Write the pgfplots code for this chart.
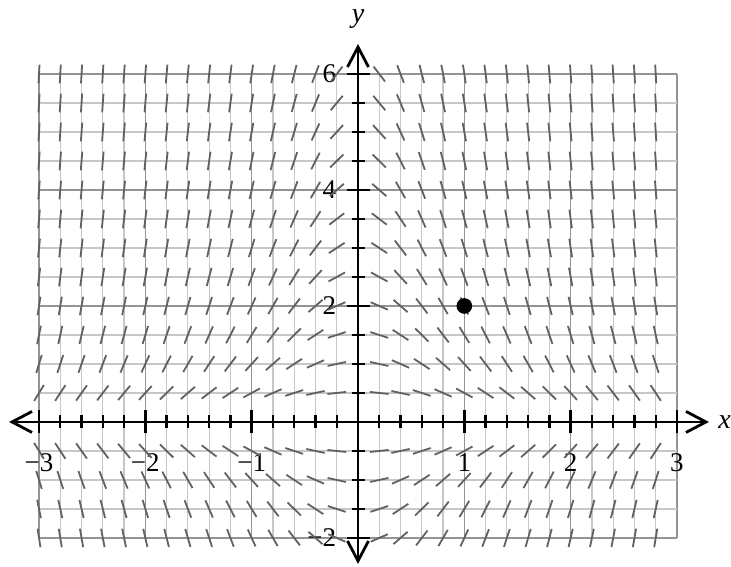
\documentclass[border=0pt]{standalone}
\usepackage{fontspec}
\setmainfont{Liberation Serif}
\usepackage{pgfplots}
\usepackage{pgfplotstable}
\pgfplotsset{compat=1.18}
\usetikzlibrary{arrows.meta}

\definecolor{segcol}{gray}{0.38}
\definecolor{majgrid}{gray}{0.58}
\definecolor{mingrid}{gray}{0.78}

% slopes dy/dx at the grid points: one row per x, one column per y
\pgfplotstableread[header=has colnames]{
x    -2    -1.5  -1    -0.5  0.5   1     1.5   2     2.5   3     3.5   4     4.5   5     5.5   6
-3   -12   -9    -6    -3    3     6     9     12    15    18    21    24    27    30    33    36
-2.8 -11.2 -8.4  -5.6  -2.8  2.8   5.6   8.4   11.2  14    16.8  19.6  22.4  25.2  28    30.8  33.6
-2.6 -10.4 -7.8  -5.2  -2.6  2.6   5.2   7.8   10.4  13    15.6  18.2  20.8  23.4  26    28.6  31.2
-2.4 -9.6  -7.2  -4.8  -2.4  2.4   4.8   7.2   9.6   12    14.4  16.8  19.2  21.6  24    26.4  28.8
-2.2 -8.8  -6.6  -4.4  -2.2  2.2   4.4   6.6   8.8   11    13.2  15.4  17.6  19.8  22    24.2  26.4
-2   -8    -6    -4    -2    2     4     6     8     10    12    14    16    18    20    22    24
-1.8 -7.2  -5.4  -3.6  -1.8  1.8   3.6   5.4   7.2   9     10.8  12.6  14.4  16.2  18    19.8  21.6
-1.6 -6.4  -4.8  -3.2  -1.6  1.6   3.2   4.8   6.4   8     9.6   11.2  12.8  14.4  16    17.6  19.2
-1.4 -5.6  -4.2  -2.8  -1.4  1.4   2.8   4.2   5.6   7     8.4   9.8   11.2  12.6  14    15.4  16.8
-1.2 -4.8  -3.6  -2.4  -1.2  1.2   2.4   3.6   4.8   6     7.2   8.4   9.6   10.8  12    13.2  14.4
-1   -4    -3    -2    -1    1     2     3     4     5     6     7     8     9     10    11    12
-0.8 -3.2  -2.4  -1.6  -0.8  0.8   1.6   2.4   3.2   4     4.8   5.6   6.4   7.2   8     8.8   9.6
-0.6 -2.4  -1.8  -1.2  -0.6  0.6   1.2   1.8   2.4   3     3.6   4.2   4.8   5.4   6     6.6   7.2
-0.4 -1.6  -1.2  -0.8  -0.4  0.4   0.8   1.2   1.6   2     2.4   2.8   3.2   3.6   4     4.4   4.8
-0.2 -0.8  -0.6  -0.4  -0.2  0.2   0.4   0.6   0.8   1     1.2   1.4   1.6   1.8   2     2.2   2.4
0.2  0.8   0.6   0.4   0.2   -0.2  -0.4  -0.6  -0.8  -1    -1.2  -1.4  -1.6  -1.8  -2    -2.2  -2.4
0.4  1.6   1.2   0.8   0.4   -0.4  -0.8  -1.2  -1.6  -2    -2.4  -2.8  -3.2  -3.6  -4    -4.4  -4.8
0.6  2.4   1.8   1.2   0.6   -0.6  -1.2  -1.8  -2.4  -3    -3.6  -4.2  -4.8  -5.4  -6    -6.6  -7.2
0.8  3.2   2.4   1.6   0.8   -0.8  -1.6  -2.4  -3.2  -4    -4.8  -5.6  -6.4  -7.2  -8    -8.8  -9.6
1    4     3     2     1     -1    -2    -3    -4    -5    -6    -7    -8    -9    -10   -11   -12
1.2  4.8   3.6   2.4   1.2   -1.2  -2.4  -3.6  -4.8  -6    -7.2  -8.4  -9.6  -10.8 -12   -13.2 -14.4
1.4  5.6   4.2   2.8   1.4   -1.4  -2.8  -4.2  -5.6  -7    -8.4  -9.8  -11.2 -12.6 -14   -15.4 -16.8
1.6  6.4   4.8   3.2   1.6   -1.6  -3.2  -4.8  -6.4  -8    -9.6  -11.2 -12.8 -14.4 -16   -17.6 -19.2
1.8  7.2   5.4   3.6   1.8   -1.8  -3.6  -5.4  -7.2  -9    -10.8 -12.6 -14.4 -16.2 -18   -19.8 -21.6
2    8     6     4     2     -2    -4    -6    -8    -10   -12   -14   -16   -18   -20   -22   -24
2.2  8.8   6.6   4.4   2.2   -2.2  -4.4  -6.6  -8.8  -11   -13.2 -15.4 -17.6 -19.8 -22   -24.2 -26.4
2.4  9.6   7.2   4.8   2.4   -2.4  -4.8  -7.2  -9.6  -12   -14.4 -16.8 -19.2 -21.6 -24   -26.4 -28.8
2.6  10.4  7.8   5.2   2.6   -2.6  -5.2  -7.8  -10.4 -13   -15.6 -18.2 -20.8 -23.4 -26   -28.6 -31.2
2.8  11.2  8.4   5.6   2.8   -2.8  -5.6  -8.4  -11.2 -14   -16.8 -19.6 -22.4 -25.2 -28   -30.8 -33.6
}\slopes

% half length of a segment in x units, and the y/x screen ratio of the units
\def\hl{0.088}
\def\ry{0.5455}

\pgfplotsset{
  layers/fieldlayers/.define layer set={
    axis background,axis grid,pre main,main,axis ticks,axis lines,
    axis tick labels,axis descriptions,axis foreground}{},
}

\begin{document}
\begin{tikzpicture}[>={Straight Barb[length=10pt,width=10.5pt]}]
\begin{axis}[
  set layers=fieldlayers,
  x=53.17pt, y=29pt,
  xmin=-3, xmax=3, ymin=-2, ymax=6,
  clip=false,
  axis lines=middle,
  axis line style={<->, line width=1.4pt, black},
  x axis line style={shorten <=-15pt, shorten >=-16pt},
  y axis line style={shorten <=-13pt, shorten >=-15pt},
  xtick={-3,-2,-1,1,2,3},
  xticklabels={−3,−2,−1,1,2,3},
  ytick={-2,2,4,6},
  yticklabels={−2,2,4,6},
  minor xtick={-2.8,-2.6,-2.4,-2.2,-1.8,-1.6,-1.4,-1.2,-0.8,-0.6,-0.4,-0.2,
               0.2,0.4,0.6,0.8,1.2,1.4,1.6,1.8,2.2,2.4,2.6,2.8},
  minor ytick={-1.5,-1,-0.5,0.5,1,1.5,2.5,3,3.5,4.5,5,5.5},
  tick align=center,
  major tick length=11.5pt,
  minor tick length=6.5pt,
  tick style={black, line width=1.2pt},
  grid=both,
  major grid style={majgrid, line width=0.8pt},
  minor grid style={mingrid, line width=0.6pt},
  ticklabel style={font=\fontsize{13.5}{15}\selectfont, inner sep=0pt},
  xticklabel style={anchor=center, yshift=-14.5pt},
  yticklabel style={anchor=east, xshift=-5pt},
]
\pgfplotsinvokeforeach{-2,-1.5,-1,-0.5,0.5,1,1.5,2,2.5,3,3.5,4,4.5,5,5.5,6}{
  \addplot[segcol, line width=0.9pt, no markers,
    quiver={u={2*\hl/sqrt(1+(\ry*(\thisrow{#1}))^2)},
            v={2*\hl*(\thisrow{#1})/sqrt(1+(\ry*(\thisrow{#1}))^2)}}]
    table[x expr={\thisrow{x}-\hl/sqrt(1+(\ry*(\thisrow{#1}))^2)},
          y expr={#1-\hl*(\thisrow{#1})/sqrt(1+(\ry*(\thisrow{#1}))^2)}] {\slopes};
}
% the marked point
\addplot[only marks, mark=*, mark size=3.7pt, black] coordinates {(1,2)};
\node[anchor=west, inner sep=0pt, font=\fontsize{14}{16}\selectfont\itshape]
  at (axis cs:3.386,0) {x};
\node[anchor=center, inner sep=0pt, font=\fontsize{14}{16}\selectfont\itshape]
  at (axis cs:0,6.95) {y};
\coordinate (bl) at (axis cs:-3.367,-2.5);
\coordinate (tr) at (axis cs:3.508,7.276);
\end{axis}
\pgfresetboundingbox
\useasboundingbox (bl) rectangle (tr);
\end{tikzpicture}
\end{document}
